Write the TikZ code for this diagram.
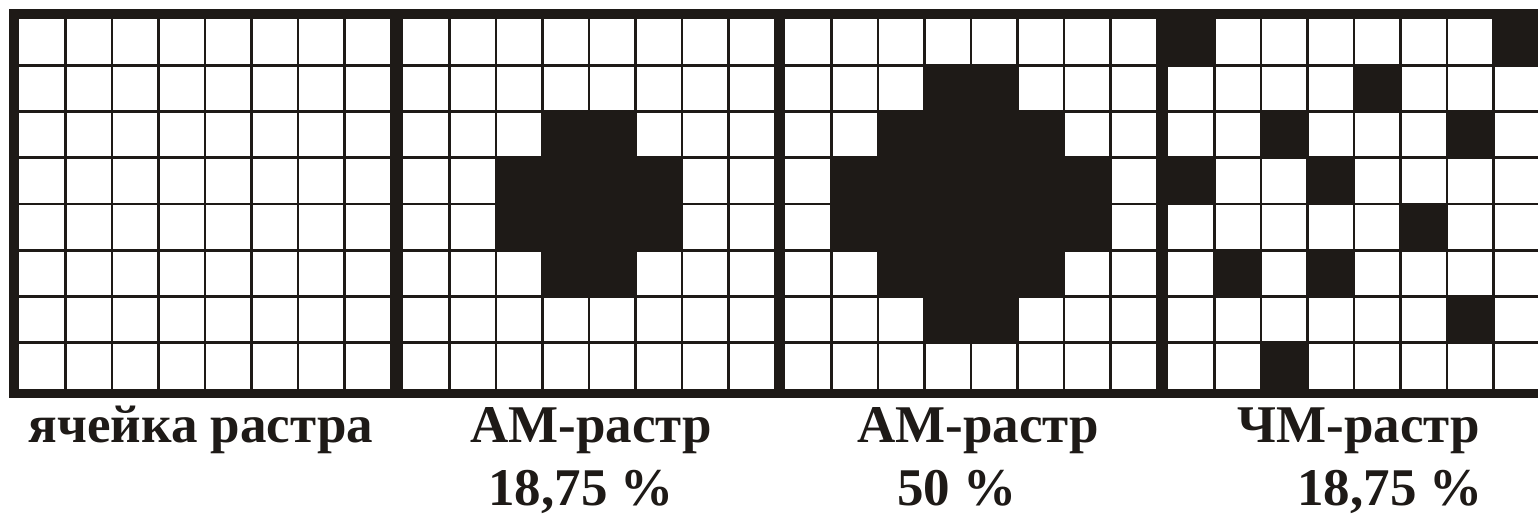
\documentclass[tikz,border=0pt]{standalone}
\usepackage{fontspec}
\setmainfont{Liberation Serif}
\definecolor{ink}{RGB}{30,26,23}
\newcommand\pixcell[3]{\fill[ink] ({#1+#2*46.5},{19+#3*46.25}) rectangle ++(46.5,46.25);}
\begin{document}
\begin{tikzpicture}[x=1pt,y=-1pt,
  gridline/.style={draw=ink,line width=2.6pt},
  band/.style={fill=ink},
  lbl/.style={inner sep=0pt,anchor=base,text=ink,font=\fontsize{53}{60}\selectfont\bfseries}]
\useasboundingbox (0,0) rectangle (1538,514);
\fill[white] (0,0) rectangle (1538,514);
\begin{scope}
\clip (0,0) rectangle (1538,514);
% thin grid lines of the four panels
\foreach \px in {19,403,785,1168}{
  \foreach \i in {1,...,8}
    \draw[gridline] ({\px+\i*46.5},19) -- ({\px+\i*46.5},389);
  \foreach \j in {1,...,7}
    \draw[gridline] (\px,{19+\j*46.25}) -- ({\px+372},{19+\j*46.25});
}
% AM 18,75 %
\foreach \c/\r in {3/2,4/2,2/3,3/3,4/3,5/3,2/4,3/4,4/4,5/4,3/5,4/5}
  \pixcell{403}{\c}{\r}
% AM 50 %
\foreach \c/\r in {3/1,4/1,2/2,3/2,4/2,5/2,1/3,2/3,3/3,4/3,5/3,6/3,
                   1/4,2/4,3/4,4/4,5/4,6/4,2/5,3/5,4/5,5/5,3/6,4/6}
  \pixcell{785}{\c}{\r}
% FM 18,75 %
\foreach \c/\r in {0/0,7/0,4/1,2/2,6/2,0/3,3/3,5/4,1/5,3/5,6/6,2/7}
  \pixcell{1168}{\c}{\r}
% thick frame
\fill[band] (9,9) rectangle (1538,19);
\fill[band] (9,389) rectangle (1538,398);
\fill[band] (9,9) rectangle (19,398);
\fill[band] (391,9) rectangle (403,398);
\fill[band] (775,9) rectangle (785,398);
\fill[band] (1157,9) rectangle (1168,398);
\end{scope}
% labels
\node[lbl] (l1) at (201,442) {ячейка растра};
\node[lbl] (l2) at (591,442) {АМ-растр};
\node[lbl] (p2) at (581,505) {18,75 \%};
\node[lbl] (l3) at (978,442) {АМ-растр};
\node[lbl] (p3) at (957,505) {50 \%};
\node[lbl] (l4) at (1359,442) {ЧМ-растр};
\node[lbl] (p4) at (1390,505) {18,75 \%};
\end{tikzpicture}
\end{document}
